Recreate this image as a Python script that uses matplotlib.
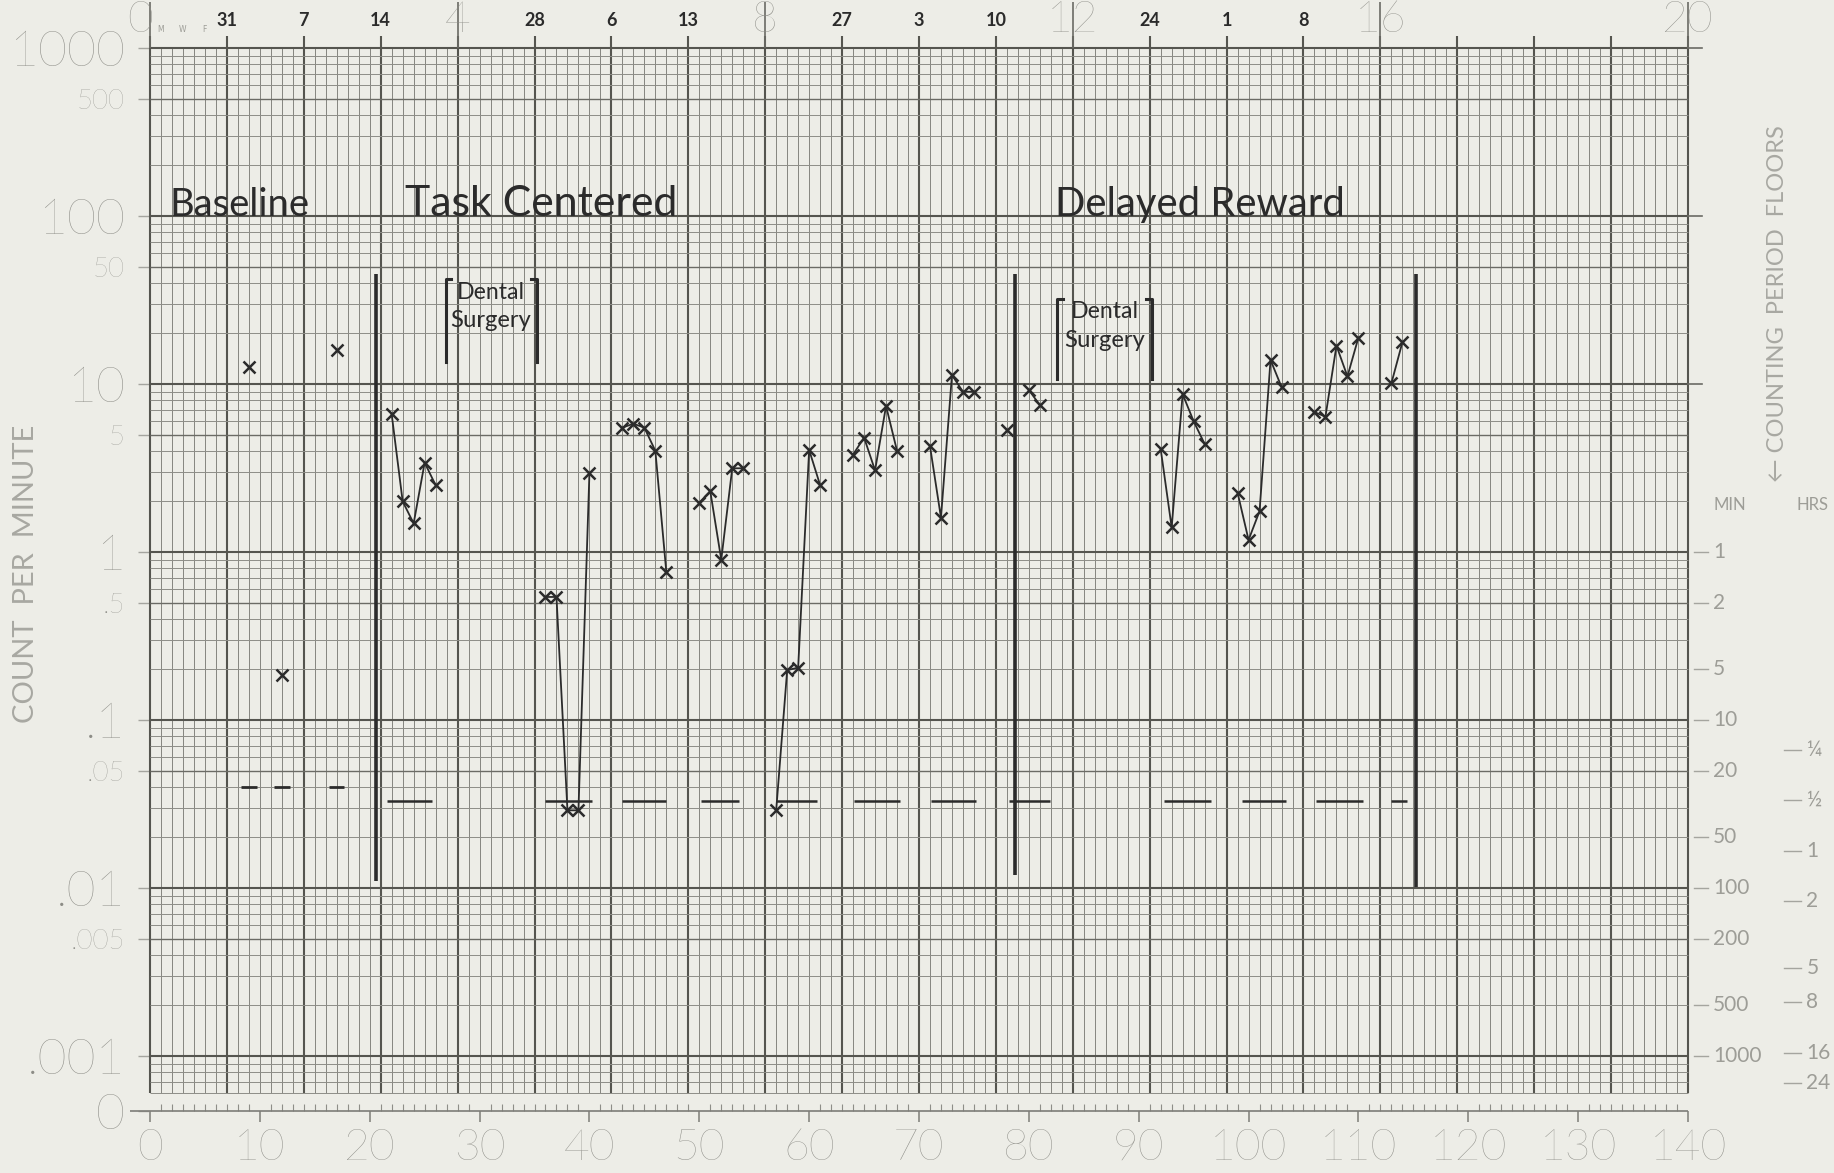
import numpy as np
import matplotlib
matplotlib.use("Agg")
import matplotlib.pyplot as plt
from matplotlib.ticker import FixedLocator, NullLocator

# ---- values: day index (0-140) and count per minute ----
baseline_day = [9, 12, 17]
baseline_rate = [12.6, 0.185, 16.0]
baseline_floor = 0.04

# task centered, one connected run per week
tc_days = [[22, 23, 24, 25, 26], [36, 37, 38, 39, 40], [43, 44, 45, 46, 47],
           [50, 51, 52, 53, 54], [57, 58, 59, 60, 61], [64, 65, 66, 67, 68],
           [71, 72, 73, 74, 75], [78]]
tc_rates = [[6.6, 2.0, 1.48, 3.4, 2.5], [0.54, 0.54, 0.029, 0.029, 2.95],
            [5.5, 5.8, 5.5, 4.0, 0.76], [1.97, 2.3, 0.9, 3.15, 3.15],
            [0.029, 0.198, 0.205, 4.05, 2.5], [3.8, 4.8, 3.06, 7.4, 4.0],
            [4.27, 1.6, 11.3, 9.0, 9.0], [5.3]]

# delayed reward
dr_days = [[80, 81], [92, 93, 94, 95, 96], [99, 100, 101, 102, 103],
           [106, 107, 108, 109, 110], [113, 114]]
dr_rates = [[9.2, 7.5], [4.1, 1.4, 8.7, 6.0, 4.4], [2.25, 1.18, 1.75, 13.9, 9.6],
            [6.8, 6.4, 16.9, 11.1, 18.9], [10.1, 17.7]]

# record floor dashes (1/30 min)
floor_start = [21.6, 36.0, 43.0, 50.2, 57.0, 64.1, 71.1, 78.2, 92.3, 99.4, 106.1, 113.0]
floor_end = [25.7, 40.2, 47.0, 53.6, 60.7, 68.3, 75.2, 81.9, 96.6, 103.4, 110.4, 114.4]
record_floor = 0.033

phase_day = [20.6, 78.7, 115.2]
phase_bottom = [0.011, 0.012, 0.0102]
phase_top = 45
phase_names = ["Baseline", "Task Centered", "Delayed Reward"]
phase_name_day = [1.8, 23.2, 82.4]
phase_name_end = [14.6, 48.0, 108.8]

surgery_left = [26.9, 82.6]
surgery_right = [35.2, 91.2]
surgery_top = [42, 32]
surgery_bottom = [13.6, 10.7]

# axis labelling of the chart paper
rate_ticks = [1000, 500, 100, 50, 10, 5, 1, .5, .1, .05, .01, .005, .001]
rate_labels = ["1000", "500", "100", "50", "10", "5", "1", ".5", ".1", ".05", ".01", ".005", ".001"]
week_days = [0, 28, 56, 84, 112, 140]
week_labels = ["0", "4", "8", "12", "16", "20"]
date_days = [7, 14, 21, 35, 42, 49, 63, 70, 77, 91, 98, 105]
date_labels = ["31", "7", "14", "28", "6", "13", "27", "3", "10", "24", "1", "8"]
min_vals = [1, .5, .2, .1, .05, .02, .01, .005, .002, .001]
min_labels = ["1", "2", "5", "10", "20", "50", "100", "200", "500", "1000"]
hrs_vals = [1 / 15, 1 / 30, 1 / 60, 1 / 120, 1 / 300, 1 / 480, 1 / 960, 1 / 1440]
hrs_labels = ["¼", "½", "1", "2", "5", "8", "16", "24"]

W, H = 1834, 1173
paper = "#edede7"
ink = "#2b2b2b"
faint = "#9d9d97"
hand = ["Lato", "DejaVu Sans"]
thin = ["Lato", "DejaVu Sans"]
PX_PER_DAY = 1538 / 140

fig = plt.figure(figsize=(W / 100, H / 100), dpi=100, facecolor=paper)
ax = fig.add_axes([150 / W, 62 / H, 1538 / W, 1063 / H])
ax.set_facecolor(paper)
ax.set_yscale("log")
ymin = 10 ** (-3 - 55 / 168)
ax.set_ylim(ymin, 1000)
ax.set_xlim(0, 140)
for s in ax.spines.values():
    s.set_visible(False)
renderer = fig.canvas.get_renderer()


def fit_width(t, days_wide, max_size):
    # shrink/grow a text so it spans the same width as the handwriting
    w = t.get_window_extent(renderer).width
    t.set_fontsize(min(max_size, t.get_fontsize() * days_wide * PX_PER_DAY / w))


# chart paper grid
grid_low = 0.0006
days = np.arange(141)
weeks = days[days % 7 == 0]
ax.vlines(days[days % 7 != 0], grid_low, 1000, color="#85857f", lw=0.7, clip_on=False)
ax.vlines(weeks, grid_low, 1000, color="#55554f", lw=1.5, clip_on=False)
hl = [m * 10.0 ** k for k in range(-4, 3) for m in range(1, 10)] + [1000]
hl = [v for v in hl if grid_low - 1e-9 <= v <= 1000]
for v in hl:
    m = round(v / 10 ** np.floor(np.log10(v) + 1e-9))
    if m == 1:
        c, w = "#55554f", 1.5
    elif m == 5:
        c, w = "#6b6b65", 1.0
    else:
        c, w = "#8e8e88", 0.7
    ax.hlines(v, 0, 140, color=c, lw=w, clip_on=False)

# week lines poke above the top edge, every fourth week up to the number
xt = ax.get_xaxis_transform()
ax.vlines(weeks, 1, 1 + 12 / 1063, color="#55554f", lw=1.5, transform=xt, clip_on=False)
ax.vlines(week_days, 1, 1 + 46 / 1063, color="#6b6b65", lw=1.2, transform=xt, clip_on=False)
for d, lab in zip(week_days, week_labels):
    ax.text(d - (0.9 if d == 0 else 0), 1 + 27 / 1063, lab, transform=xt, ha="center", va="center",
            fontsize=32, color="#8c8c86", family=thin, fontweight="light")
for d, lab in zip(date_days, date_labels):
    ax.text(d, 1 + 27 / 1063, lab, transform=xt, ha="center", va="center",
            fontsize=13, color=ink, family=hand, fontweight="bold")
for d, lab in zip([1, 3, 5], ["M", "W", "F"]):
    ax.text(d, 1 + 19 / 1063, lab, transform=xt, ha="center", va="center", fontsize=5.5, color=faint)

# zero row at the bottom
ax.hlines(ymin, -1.8, 140, color="#7d7d78", lw=1.2, clip_on=False)
ax.xaxis.set_major_locator(FixedLocator(np.arange(0, 141, 10)))
ax.xaxis.set_minor_locator(FixedLocator(days))
ax.tick_params(axis="x", which="major", direction="out", length=8, width=1.1, color="#7d7d78",
               labelsize=32, labelcolor="#8c8c86", pad=5)
ax.tick_params(axis="x", which="minor", direction="in", length=5, width=0.8, color="#8e8e88")
for t in ax.get_xticklabels():
    t.set_family(thin)
    t.set_fontweight("light")

# left rate scale
ax.yaxis.set_major_locator(FixedLocator(rate_ticks + [ymin]))
ax.yaxis.set_minor_locator(NullLocator())
ax.set_yticklabels(rate_labels + ["0"])
ax.tick_params(axis="y", direction="out", length=9, width=1.0, color="#a5a59f", pad=9, labelcolor="#8c8c86")
for t, v in zip(ax.get_yticklabels(), rate_ticks + [ymin]):
    big = v == ymin or abs(np.log10(v) - round(np.log10(v))) < 1e-6
    t.set_fontsize(36 if big else 20)
    t.set_family(thin)
    t.set_fontweight("light")
ax.text(-0.0806, 0.74, "COUNT  PER  MINUTE", transform=ax.get_yaxis_transform(), rotation=90,
        ha="center", va="center", fontsize=21, color="#a8a8a2", family=thin)

# right counting period floors
yt = ax.get_yaxis_transform()
for v, lab in zip(min_vals, min_labels):
    ax.plot([1.004, 1.013], [v, v], transform=yt, color="#a5a59f", lw=1.0, clip_on=False)
    ax.text(1.0163, v, lab, transform=yt, ha="left", va="center", fontsize=15, color=faint, family=thin)
for v, lab in zip(hrs_vals, hrs_labels):
    ax.plot([1.0624, 1.0735], [v, v], transform=yt, color="#a5a59f", lw=1.0, clip_on=False)
    ax.text(1.077, v, lab, transform=yt, ha="left", va="center", fontsize=15, color=faint, family=thin)
for v in [1000, 100, 10]:
    ax.plot([1.0, 1.009], [v, v], transform=yt, color="#6b6b65", lw=1.2, clip_on=False)
ax.text(1.027, 1.9, "MIN", transform=yt, ha="center", va="center", fontsize=12, color=faint, family=thin)
ax.text(1.081, 1.9, "HRS", transform=yt, ha="center", va="center", fontsize=12, color=faint, family=thin)
ax.text(1.0585, 30, "\u2190 COUNTING  PERIOD  FLOORS", transform=yt, rotation=90,
        ha="center", va="center", fontsize=17, color="#a8a8a2", family=thin)

# phase change lines and labels
ax.vlines(phase_day, phase_bottom, phase_top, color=ink, lw=2.6)
for d, e, name in zip(phase_name_day, phase_name_end, phase_names):
    t = ax.text(d, 100, name, ha="left", va="baseline", fontsize=36, color=ink, family=hand)
    fit_width(t, e - d, 38)

# dental surgery brackets
for l, r, top, bot in zip(surgery_left, surgery_right, surgery_top, surgery_bottom):
    ax.plot([l + 0.5, l, l], [top, top, bot], color=ink, lw=2.2)
    ax.plot([r - 0.5, r, r], [top, top, bot], color=ink, lw=2.2)
    mid = (l + r) / 2
    t1 = ax.text(mid, top * 0.84, "Dental", ha="center", va="center", fontsize=20, color=ink, family=hand)
    t2 = ax.text(mid, top * 0.57, "Surgery", ha="center", va="center", fontsize=20, color=ink, family=hand)
    fit_width(t1, 6.2, 22)
    fit_width(t2, 7.4, 22)

# record floors
ax.hlines([baseline_floor] * len(baseline_day), np.array(baseline_day) - 0.7,
          np.array(baseline_day) + 0.7, color=ink, lw=2.0)
ax.hlines([record_floor] * len(floor_start), floor_start, floor_end, color=ink, lw=1.8)

# data
mk = dict(marker="x", ms=9, mew=1.8, color=ink)
ax.plot(baseline_day, baseline_rate, ls="none", **mk)
for dd, rr in zip(tc_days + dr_days, tc_rates + dr_rates):
    ax.plot(dd, rr, lw=1.3, **mk)

fig.savefig("out.png", dpi=100, facecolor=paper)
